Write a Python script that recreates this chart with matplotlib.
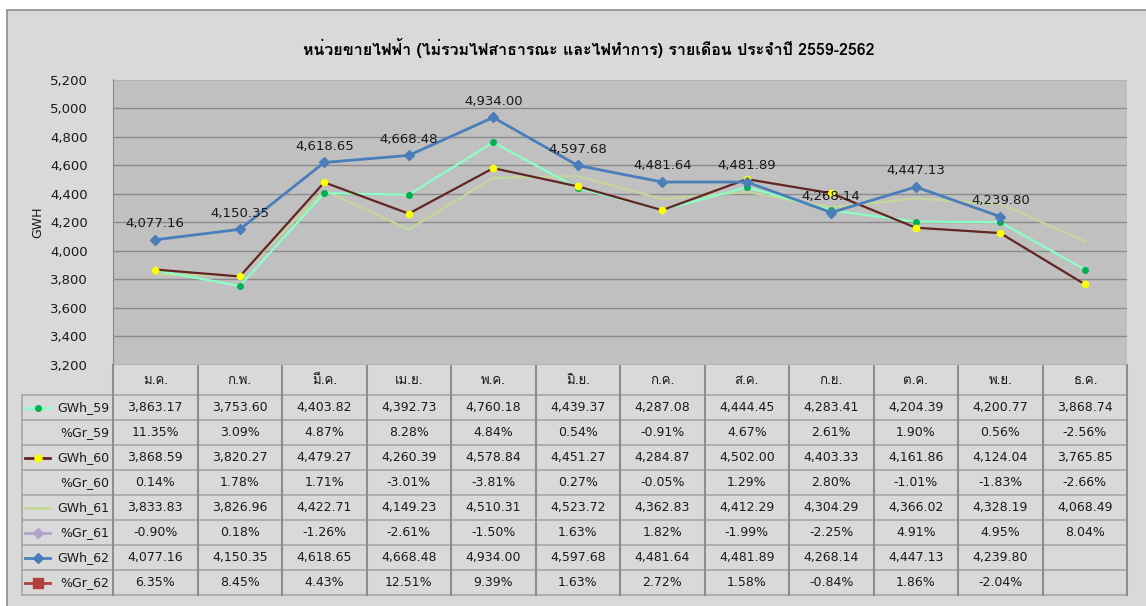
import matplotlib
matplotlib.use("Agg")
import matplotlib.pyplot as plt
from matplotlib import font_manager
from matplotlib.ft2font import FT2Font
from matplotlib.patches import Rectangle
from matplotlib.lines import Line2D

# data
months = ["ม.ค.", "ก.พ.", "มี.ค.", "เม.ย.", "พ.ค.", "มิ.ย.",
          "ก.ค.", "ส.ค.", "ก.ย.", "ต.ค.", "พ.ย.", "ธ.ค."]

gwh_59 = [3863.17, 3753.60, 4403.82, 4392.73, 4760.18, 4439.37,
          4287.08, 4444.45, 4283.41, 4204.39, 4200.77, 3868.74]
gr_59 = [11.35, 3.09, 4.87, 8.28, 4.84, 0.54, -0.91, 4.67, 2.61, 1.90, 0.56, -2.56]

gwh_60 = [3868.59, 3820.27, 4479.27, 4260.39, 4578.84, 4451.27,
          4284.87, 4502.00, 4403.33, 4161.86, 4124.04, 3765.85]
gr_60 = [0.14, 1.78, 1.71, -3.01, -3.81, 0.27, -0.05, 1.29, 2.80, -1.01, -1.83, -2.66]

gwh_61 = [3833.83, 3826.96, 4422.71, 4149.23, 4510.31, 4523.72,
          4362.83, 4412.29, 4304.29, 4366.02, 4328.19, 4068.49]
gr_61 = [-0.90, 0.18, -1.26, -2.61, -1.50, 1.63, 1.82, -1.99, -2.25, 4.91, 4.95, 8.04]

gwh_62 = [4077.16, 4150.35, 4618.65, 4668.48, 4934.00, 4597.68,
          4481.64, 4481.89, 4268.14, 4447.13, 4239.80]
gr_62 = [6.35, 8.45, 4.43, 12.51, 9.39, 1.63, 2.72, 1.58, -0.84, 1.86, -2.04]

title = "หน่วยขายไฟฟ้า (ไม่รวมไฟสาธารณะ และไฟทำการ) รายเดือน ประจำปี 2559-2562"

# find a font that has Thai glyphs
thai_font = None
for f in font_manager.fontManager.ttflist:
    try:
        if 0x0E2B in FT2Font(f.fname).get_charmap():
            thai_font = f.name
            break
    except Exception:
        pass
families = ["DejaVu Sans"]
if thai_font:
    families = ["DejaVu Sans", thai_font]
plt.rcParams["font.family"] = families
thai_fam = [thai_font, "DejaVu Sans"] if thai_font else ["DejaVu Sans"]

W, H = 1146, 606
fig = plt.figure(figsize=(W / 100, H / 100), dpi=100)
fig.patch.set_facecolor("white")

# background axes in pixel coordinates
bg = fig.add_axes([0, 0, 1, 1], zorder=0)
bg.set_xlim(0, W)
bg.set_ylim(H, 0)
bg.axis("off")
bg.add_patch(Rectangle((7, 10), W, H, facecolor="#d9d9d9", edgecolor="#8c8c8c", lw=1.2))

# plot area
px0, px1 = 113, 1127
py_top, py_bot = 79.5, 365
ax = fig.add_axes([px0 / W, 1 - py_bot / H, (px1 - px0) / W, (py_bot - py_top) / H], zorder=1)
ax.set_facecolor("#c0c0c0")
ax.set_xlim(-0.5, 11.5)
ax.set_ylim(3200, 5200)
ax.set_yticks(range(3200, 5201, 200))
ax.set_yticklabels([f"{v:,}" for v in range(3200, 5201, 200)], fontsize=9.5, color="#1a1a1a")
ax.tick_params(axis="y", length=0, pad=18)
ax.tick_params(axis="x", length=0, labelbottom=False)
ax.grid(axis="y", color="#8a8a8a", lw=1.0)
ax.set_axisbelow(True)
for s in ax.spines.values():
    s.set_visible(False)
ax.spines["left"].set_visible(True)
ax.spines["left"].set_color("#8a8a8a")

x = list(range(12))
ax.plot(x, gwh_61, color="#c3d69b", lw=1.6)
ax.plot(x, gwh_59, color="#8cffc6", lw=1.6, marker="o", ms=4, mfc="#00b050", mec="#00b050")
ax.plot(x, gwh_60, color="#632523", lw=1.6, marker="o", ms=4.5, mfc="#ffff00", mec="#ffff00")
ax.plot(x[:len(gwh_62)], gwh_62, color="#4a7ebb", lw=2, marker="D", ms=5.5)
for i, v in enumerate(gwh_62):
    ax.annotate(f"{v:,.2f}", (i, v), xytext=(0, 7), textcoords="offset points",
                ha="center", va="bottom", fontsize=9.5, color="#1a1a1a")

bg.text(38, 222, "GWH", rotation=90, ha="center", va="center", fontsize=9, color="#1a1a1a")

bg.text(589, 48, title, ha="center", va="center", fontsize=11.5, fontweight="bold", family=thai_fam)

# data table
cw = (px1 - px0) / 12
tx0 = 22
hdr_bot = 395
rh = 25
rows = [
    ("GWh_59", [f"{v:,.2f}" for v in gwh_59], dict(color="#8cffc6"), dict(marker="o", mfc="#00b050", mec="#00b050", ms=4)),
    ("%Gr_59", [f"{v:.2f}%" for v in gr_59], None, None),
    ("GWh_60", [f"{v:,.2f}" for v in gwh_60], dict(color="#632523"), dict(marker="o", mfc="#ffff00", mec="#ffff00", ms=5)),
    ("%Gr_60", [f"{v:.2f}%" for v in gr_60], None, None),
    ("GWh_61", [f"{v:,.2f}" for v in gwh_61], dict(color="#c3d69b"), None),
    ("%Gr_61", [f"{v:.2f}%" for v in gr_61], dict(color="#b3a2c7"), dict(marker="D", color="#b3a2c7", ms=5)),
    ("GWh_62", [f"{v:,.2f}" for v in gwh_62], dict(color="#4a7ebb"), dict(marker="D", color="#4a7ebb", ms=5)),
    ("%Gr_62", [f"{v:.2f}%" for v in gr_62], dict(color="#b0403d"), dict(marker="s", color="#b0403d", ms=7)),
]
tbot = hdr_bot + rh * len(rows)

# month header
for i, m in enumerate(months):
    bg.text(px0 + cw * (i + 0.5), (py_bot + hdr_bot) / 2 + 1, m, ha="center", va="center",
            fontsize=9.5, family=thai_fam, color="#1a1a1a")

grid_kw = dict(color="#a6a6a6", lw=1.2)
for k, (name, vals, line_key, mark_key) in enumerate(rows):
    yc = hdr_bot + rh * (k + 0.5)
    bg.plot([tx0, px1], [hdr_bot + rh * (k + 1)] * 2, **grid_kw)
    bg.text(109, yc, name, ha="right", va="center", fontsize=9, color="#1a1a1a")
    if line_key:
        bg.add_line(Line2D([25, 50], [yc, yc], lw=2, **line_key))
    if mark_key:
        bg.add_line(Line2D([37.5], [yc], lw=0, **mark_key))
    for i, s in enumerate(vals):
        bg.text(px0 + cw * (i + 0.5), yc, s, ha="center", va="center", fontsize=9, color="#1a1a1a")
bg.plot([tx0, px1], [hdr_bot, hdr_bot], **grid_kw)
bg.plot([tx0, tx0], [hdr_bot, tbot], **grid_kw)
for i in range(13):
    xx = px0 + cw * i
    bg.plot([xx, xx], [py_bot, tbot], color="#8c8c8c", lw=1.5)

fig.savefig("out.png", dpi=100)
